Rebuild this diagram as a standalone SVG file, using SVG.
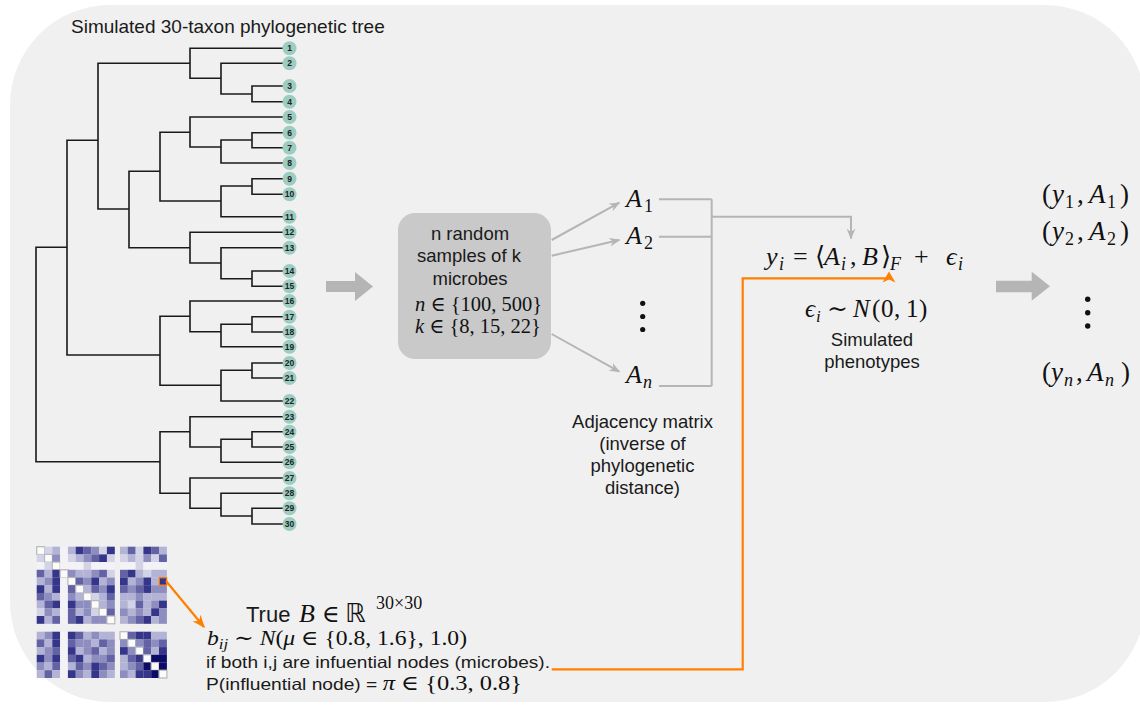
<svg xmlns="http://www.w3.org/2000/svg" width="1140" height="706" viewBox="0 0 1140 706">
<defs>
<style>
.t{font-family:"Liberation Sans",Arial,sans-serif;fill:#1a1a1a}
.m{font-family:"Liberation Serif","DejaVu Serif","DejaVu Sans",serif;fill:#111}
.i{font-style:italic}
.tree{fill:none;stroke:#1a1a1a;stroke-width:1.6;stroke-linecap:square}
.leaf circle{fill:#9dccc1}
.leaf text{font-family:"Liberation Sans",Arial,sans-serif;font-size:8.5px;font-weight:bold;fill:#222;text-anchor:middle}
.gl{fill:none;stroke:#b5b5b5;stroke-width:2}
.ol{fill:none;stroke:#ff8000;stroke-width:2.2}
.hm rect{width:7.9px;height:7.8px}
.c0{fill:#f3f3f7}.c1{fill:#d3d3e7}.c2{fill:#b3b3d5}.c3{fill:#8d8dbf}.c4{fill:#6262a4}.c5{fill:#35358a}.c6{fill:#0c0c66}
.d{fill:#fbfbfb;stroke:#b8b8b8;stroke-width:1.2}
</style>
<marker id="ag" viewBox="0 0 10 10" refX="9" refY="5" markerWidth="11" markerHeight="11" markerUnits="userSpaceOnUse" orient="auto"><path d="M0,1 L10,5 L0,9 L3,5 z" fill="#b5b5b5"/></marker>
<marker id="ao" viewBox="0 0 10 10" refX="9" refY="5" markerWidth="13" markerHeight="13" markerUnits="userSpaceOnUse" orient="auto"><path d="M0,1 L10,5 L0,9 L3,5 z" fill="#ff8000"/></marker>
</defs>
<rect width="1140" height="706" fill="#ffffff"/>
<rect x="10" y="5" width="1135" height="697" rx="100" ry="100" fill="#f0f0f0"/>

<g id="tree">
<text class="t" x="71" y="33" font-size="19">Simulated 30-taxon phylogenetic tree</text>
<path class="tree" d="M252,86V101.7M221,63.3V94M190,48.3V78.3M98,63.3V209M252,132.7V147.7M221,140V163M190,117V147M252,178.7V194.3M221,186V216.7M160,132.3V201M252,271V286.3M221,247.7V278.7M190,232.3V263M129,171.3V247.7M67,140.3V355M160,316.3V385.3M190,301V331.7M221,324.3V346.7M252,316.7V332M221,370.3V401M252,363V378M36,247.3V461.7M160,431.7V493.3M190,416.7V447M221,439.3V462.3M252,431.7V447M190,478V508.3M221,493.3V516M252,508.3V524
M221,94H252M190,78.3H221M98,63.3H190M221,140H252M190,147H221M221,186H252M160,132.3H190M160,201H221M221,278.7H252M190,263H221M129,171.3H160M129,247.7H190M98,209H129M67,140.3H98M67,355H160M160,316.3H190M190,331.7H221M221,324.3H252M160,385.3H221M221,370.3H252M36,247.3H67M36,461.7H160M160,431.7H190M190,447H221M221,439.3H252M160,493.3H190M190,508.3H221M221,516H252
M190,48.3H283M221,63.3H283M252,86H283M252,101.7H283M190,117H283M252,132.7H283M252,147.7H283M221,163H283M252,178.7H283M252,194.3H283M221,216.7H283M190,232.3H283M221,247.7H283M252,271H283M252,286.3H283M190,301H283M252,316.7H283M252,332H283M221,346.7H283M252,363H283M252,378H283M221,401H283M190,416.7H283M252,431.7H283M252,447H283M221,462.3H283M190,478H283M221,493.3H283M252,508.3H283M252,524H283"/>
<g class="leaf">
<circle cx="289.5" cy="48.3" r="7"/><text x="289.5" y="51.3">1</text>
<circle cx="289.5" cy="63.3" r="7"/><text x="289.5" y="66.3">2</text>
<circle cx="289.5" cy="86" r="7"/><text x="289.5" y="89">3</text>
<circle cx="289.5" cy="101.7" r="7"/><text x="289.5" y="104.7">4</text>
<circle cx="289.5" cy="117" r="7"/><text x="289.5" y="120">5</text>
<circle cx="289.5" cy="132.7" r="7"/><text x="289.5" y="135.7">6</text>
<circle cx="289.5" cy="147.7" r="7"/><text x="289.5" y="150.7">7</text>
<circle cx="289.5" cy="163" r="7"/><text x="289.5" y="166">8</text>
<circle cx="289.5" cy="178.7" r="7"/><text x="289.5" y="181.7">9</text>
<circle cx="289.5" cy="194.3" r="7"/><text x="289.5" y="197.3">10</text>
<circle cx="289.5" cy="216.7" r="7"/><text x="289.5" y="219.7">11</text>
<circle cx="289.5" cy="232.3" r="7"/><text x="289.5" y="235.3">12</text>
<circle cx="289.5" cy="247.7" r="7"/><text x="289.5" y="250.7">13</text>
<circle cx="289.5" cy="271" r="7"/><text x="289.5" y="274">14</text>
<circle cx="289.5" cy="286.3" r="7"/><text x="289.5" y="289.3">15</text>
<circle cx="289.5" cy="301" r="7"/><text x="289.5" y="304">16</text>
<circle cx="289.5" cy="316.7" r="7"/><text x="289.5" y="319.7">17</text>
<circle cx="289.5" cy="332" r="7"/><text x="289.5" y="335">18</text>
<circle cx="289.5" cy="346.7" r="7"/><text x="289.5" y="349.7">19</text>
<circle cx="289.5" cy="363" r="7"/><text x="289.5" y="366">20</text>
<circle cx="289.5" cy="378" r="7"/><text x="289.5" y="381">21</text>
<circle cx="289.5" cy="401" r="7"/><text x="289.5" y="404">22</text>
<circle cx="289.5" cy="416.7" r="7"/><text x="289.5" y="419.7">23</text>
<circle cx="289.5" cy="431.7" r="7"/><text x="289.5" y="434.7">24</text>
<circle cx="289.5" cy="447" r="7"/><text x="289.5" y="450">25</text>
<circle cx="289.5" cy="462.3" r="7"/><text x="289.5" y="465.3">26</text>
<circle cx="289.5" cy="478" r="7"/><text x="289.5" y="481">27</text>
<circle cx="289.5" cy="493.3" r="7"/><text x="289.5" y="496.3">28</text>
<circle cx="289.5" cy="508.3" r="7"/><text x="289.5" y="511.3">29</text>
<circle cx="289.5" cy="524" r="7"/><text x="289.5" y="527">30</text>
</g>
</g>

<g id="sampling-box">
<rect x="398" y="213" width="153" height="146" rx="17" fill="#c9c9c9"/>
<text class="t" text-anchor="middle" font-size="18.5"><tspan x="470" y="240">n random</tspan><tspan x="469" y="262">samples of k</tspan><tspan x="470" y="285">microbes</tspan></text>
<text class="m" x="415" y="311" font-size="20.5"><tspan class="i">n</tspan> ∈ {100, 500}</text>
<text class="m" x="415" y="333" font-size="20.5"><tspan class="i">k</tspan> ∈ {8, 15, 22}</text>
</g>

<g id="adjacency-samples">
<text class="m" font-size="26"><tspan class="i" x="626" y="207">A</tspan><tspan x="644" y="212" font-size="18">1</tspan></text>
<text class="m" font-size="26"><tspan class="i" x="626" y="244">A</tspan><tspan x="644" y="249" font-size="18">2</tspan></text>
<text class="m" font-size="26"><tspan class="i" x="626" y="383">A</tspan><tspan class="i" x="643" y="388" font-size="18">n</tspan></text>
<circle cx="642.7" cy="303.3" r="2.6" fill="#111"/>
<circle cx="642.7" cy="316.5" r="2.6" fill="#111"/>
<circle cx="642.7" cy="329.5" r="2.6" fill="#111"/>
<text class="t" text-anchor="middle" font-size="18.5"><tspan x="642.5" y="428">Adjacency matrix</tspan><tspan x="642.5" y="450">(inverse of</tspan><tspan x="642.5" y="472">phylogenetic</tspan><tspan x="642.5" y="494">distance)</tspan></text>
</g>

<g id="phenotype-model">
<text class="m" font-size="26"><tspan class="i" x="766" y="265">y</tspan><tspan class="i" x="779" y="270" font-size="18">i</tspan><tspan x="793" y="265">=</tspan><tspan x="815">⟨</tspan><tspan class="i" x="824">A</tspan><tspan class="i" x="841" y="270" font-size="18">i</tspan><tspan x="850" y="265">,</tspan><tspan class="i" x="862">B</tspan><tspan x="881">⟩</tspan><tspan class="i" x="890" y="270" font-size="18">F</tspan><tspan x="914" y="265">+</tspan><tspan class="i" x="946">ϵ</tspan><tspan class="i" x="958" y="270" font-size="18">i</tspan></text>
<text class="m" font-size="25"><tspan class="i" x="805" y="317">ϵ</tspan><tspan class="i" x="816" y="322" font-size="17">i</tspan><tspan x="827" y="317">∼</tspan><tspan class="i" x="853">N</tspan><tspan x="872">(</tspan><tspan x="881">0</tspan><tspan x="894">,</tspan><tspan x="906">1</tspan><tspan x="919">)</tspan></text>
<text class="t" text-anchor="middle" font-size="18.5"><tspan x="872" y="346">Simulated</tspan><tspan x="872" y="368">phenotypes</tspan></text>
</g>

<g id="output-pairs">
<text class="m" font-size="27"><tspan x="1042" y="203">(</tspan><tspan class="i" x="1052">y</tspan><tspan x="1065" y="208" font-size="18">1</tspan><tspan x="1077" y="203">,</tspan><tspan class="i" x="1089">A</tspan><tspan x="1107" y="208" font-size="18">1</tspan><tspan x="1120" y="203">)</tspan></text>
<text class="m" font-size="27"><tspan x="1042" y="240">(</tspan><tspan class="i" x="1052">y</tspan><tspan x="1065" y="245" font-size="18">2</tspan><tspan x="1077" y="240">,</tspan><tspan class="i" x="1089">A</tspan><tspan x="1107" y="245" font-size="18">2</tspan><tspan x="1120" y="240">)</tspan></text>
<text class="m" font-size="27"><tspan x="1042" y="381">(</tspan><tspan class="i" x="1051">y</tspan><tspan class="i" x="1064" y="386" font-size="18">n</tspan><tspan x="1076" y="381">,</tspan><tspan class="i" x="1087">A</tspan><tspan class="i" x="1105" y="386" font-size="18">n</tspan><tspan x="1121" y="381">)</tspan></text>
<circle cx="1087.7" cy="299.3" r="2.7" fill="#111"/>
<circle cx="1087.7" cy="312.7" r="2.7" fill="#111"/>
<circle cx="1087.7" cy="326" r="2.7" fill="#111"/>
</g>

<g id="true-B">
<text class="t" x="246" y="622" font-size="22">True</text>
<text class="m" font-size="26"><tspan class="i" x="299" y="622">B</tspan><tspan x="322" font-size="24">∈</tspan><tspan x="345" font-family="DejaVu Sans" font-size="26">ℝ</tspan><tspan x="376" y="609" font-size="18">30×30</tspan></text>
<text class="m" x="207" y="645" font-size="21" textLength="260" lengthAdjust="spacingAndGlyphs"><tspan class="i">b</tspan><tspan class="i" font-size="15" dy="4">ij</tspan><tspan dy="-4"> ∼ </tspan><tspan class="i">N</tspan>(<tspan class="i">μ</tspan> ∈ {0.8, 1.6}, 1.0)</text>
<text class="t" x="206" y="668" font-size="16.5" textLength="344" lengthAdjust="spacingAndGlyphs">if both i,j are infuential nodes (microbes).</text>
<text class="t" x="206" y="690" font-size="16.5" textLength="316" lengthAdjust="spacingAndGlyphs">P(influential node) = <tspan class="m i" font-size="21">π</tspan><tspan class="m" font-size="21"> ∈ {0.3, 0.8}</tspan></text>
</g>

<g id="B-heatmap" class="hm">
<g transform="translate(0,546.7)"><rect x="36.7" class="d"/><rect x="44.5" class="c1"/><rect x="52.3" class="c2"/><rect x="60.1" class="c0"/><rect x="67.9" class="c2"/><rect x="75.7" class="c5"/><rect x="83.5" class="c4"/><rect x="91.3" class="c3"/><rect x="99.1" class="c1"/><rect x="106.9" class="c5"/><rect x="120" class="c2"/><rect x="127.8" class="c4"/><rect x="135.6" class="c1"/><rect x="143.4" class="c5"/><rect x="151.2" class="c4"/><rect x="159" class="c2"/></g>
<g transform="translate(0,554.4)"><rect x="36.7" class="c1"/><rect x="44.5" class="d"/><rect x="52.3" class="c3"/><rect x="60.1" class="c0"/><rect x="67.9" class="c1"/><rect x="75.7" class="c2"/><rect x="83.5" class="c3"/><rect x="91.3" class="c4"/><rect x="99.1" class="c5"/><rect x="106.9" class="c1"/><rect x="120" class="c1"/><rect x="127.8" class="c2"/><rect x="135.6" class="c1"/><rect x="143.4" class="c3"/><rect x="151.2" class="c1"/><rect x="159" class="c4"/></g>
<g transform="translate(0,562.1)"><rect x="36.7" class="c0"/><rect x="44.5" class="c1"/><rect x="52.3" class="d"/><rect x="60.1" class="c0"/><rect x="67.9" class="c0"/><rect x="75.7" class="c0"/><rect x="83.5" class="c1"/><rect x="91.3" class="c0"/><rect x="99.1" class="c0"/><rect x="106.9" class="c0"/><rect x="120" class="c0"/><rect x="127.8" class="c0"/><rect x="135.6" class="c1"/><rect x="143.4" class="c0"/><rect x="151.2" class="c0"/><rect x="159" class="c0"/></g>
<g transform="translate(0,569.8)"><rect x="36.7" class="c4"/><rect x="44.5" class="c2"/><rect x="52.3" class="c5"/><rect x="60.1" class="d"/><rect x="67.9" class="c3"/><rect x="75.7" class="c2"/><rect x="83.5" class="c2"/><rect x="91.3" class="c3"/><rect x="99.1" class="c4"/><rect x="106.9" class="c1"/><rect x="120" class="c4"/><rect x="127.8" class="c5"/><rect x="135.6" class="c2"/><rect x="143.4" class="c1"/><rect x="151.2" class="c2"/><rect x="159" class="c2"/></g>
<g transform="translate(0,577.5)"><rect x="36.7" class="c2"/><rect x="44.5" class="c3"/><rect x="52.3" class="c5"/><rect x="60.1" class="c0"/><rect x="67.9" class="d"/><rect x="75.7" class="c4"/><rect x="83.5" class="c3"/><rect x="91.3" class="c5"/><rect x="99.1" class="c2"/><rect x="106.9" class="c3"/><rect x="120" class="c5"/><rect x="127.8" class="c2"/><rect x="135.6" class="c3"/><rect x="143.4" class="c5"/><rect x="151.2" class="c2"/><rect x="159" class="c5"/></g>
<g transform="translate(0,585.2)"><rect x="36.7" class="c5"/><rect x="44.5" class="c2"/><rect x="52.3" class="c5"/><rect x="60.1" class="c0"/><rect x="67.9" class="c4"/><rect x="75.7" class="d"/><rect x="83.5" class="c2"/><rect x="91.3" class="c4"/><rect x="99.1" class="c3"/><rect x="106.9" class="c5"/><rect x="120" class="c4"/><rect x="127.8" class="c3"/><rect x="135.6" class="c4"/><rect x="143.4" class="c5"/><rect x="151.2" class="c3"/><rect x="159" class="c3"/></g>
<g transform="translate(0,592.9)"><rect x="36.7" class="c4"/><rect x="44.5" class="c3"/><rect x="52.3" class="c2"/><rect x="60.1" class="c0"/><rect x="67.9" class="c3"/><rect x="75.7" class="c2"/><rect x="83.5" class="d"/><rect x="91.3" class="c1"/><rect x="99.1" class="c2"/><rect x="106.9" class="c4"/><rect x="120" class="c2"/><rect x="127.8" class="c2"/><rect x="135.6" class="c3"/><rect x="143.4" class="c2"/><rect x="151.2" class="c2"/><rect x="159" class="c2"/></g>
<g transform="translate(0,600.6)"><rect x="36.7" class="c2"/><rect x="44.5" class="c4"/><rect x="52.3" class="c5"/><rect x="60.1" class="c0"/><rect x="67.9" class="c5"/><rect x="75.7" class="c3"/><rect x="83.5" class="c3"/><rect x="91.3" class="d"/><rect x="99.1" class="c2"/><rect x="106.9" class="c3"/><rect x="120" class="c2"/><rect x="127.8" class="c1"/><rect x="135.6" class="c4"/><rect x="143.4" class="c2"/><rect x="151.2" class="c3"/><rect x="159" class="c5"/></g>
<g transform="translate(0,608.3)"><rect x="36.7" class="c1"/><rect x="44.5" class="c3"/><rect x="52.3" class="c2"/><rect x="60.1" class="c0"/><rect x="67.9" class="c4"/><rect x="75.7" class="c2"/><rect x="83.5" class="c3"/><rect x="91.3" class="c1"/><rect x="99.1" class="d"/><rect x="106.9" class="c4"/><rect x="120" class="c3"/><rect x="127.8" class="c2"/><rect x="135.6" class="c3"/><rect x="143.4" class="c2"/><rect x="151.2" class="c5"/><rect x="159" class="c3"/></g>
<g transform="translate(0,616)"><rect x="36.7" class="c5"/><rect x="44.5" class="c2"/><rect x="52.3" class="c4"/><rect x="60.1" class="c0"/><rect x="67.9" class="c4"/><rect x="75.7" class="c5"/><rect x="83.5" class="c2"/><rect x="91.3" class="c3"/><rect x="99.1" class="c3"/><rect x="106.9" class="d"/><rect x="120" class="c2"/><rect x="127.8" class="c3"/><rect x="135.6" class="c4"/><rect x="143.4" class="c5"/><rect x="151.2" class="c2"/><rect x="159" class="c3"/></g>
<g transform="translate(0,631.7)"><rect x="36.7" class="c2"/><rect x="44.5" class="c3"/><rect x="52.3" class="c5"/><rect x="60.1" class="c0"/><rect x="67.9" class="c5"/><rect x="75.7" class="c4"/><rect x="83.5" class="c2"/><rect x="91.3" class="c3"/><rect x="99.1" class="c2"/><rect x="106.9" class="c2"/><rect x="120" class="d"/><rect x="127.8" class="c4"/><rect x="135.6" class="c5"/><rect x="143.4" class="c5"/><rect x="151.2" class="c2"/><rect x="159" class="c2"/></g>
<g transform="translate(0,639.4)"><rect x="36.7" class="c4"/><rect x="44.5" class="c2"/><rect x="52.3" class="c5"/><rect x="60.1" class="c0"/><rect x="67.9" class="c4"/><rect x="75.7" class="c3"/><rect x="83.5" class="c3"/><rect x="91.3" class="c2"/><rect x="99.1" class="c4"/><rect x="106.9" class="c3"/><rect x="120" class="c3"/><rect x="127.8" class="d"/><rect x="135.6" class="c3"/><rect x="143.4" class="c4"/><rect x="151.2" class="c3"/><rect x="159" class="c4"/></g>
<g transform="translate(0,647.1)"><rect x="36.7" class="c2"/><rect x="44.5" class="c3"/><rect x="52.3" class="c4"/><rect x="60.1" class="c0"/><rect x="67.9" class="c5"/><rect x="75.7" class="c2"/><rect x="83.5" class="c3"/><rect x="91.3" class="c4"/><rect x="99.1" class="c2"/><rect x="106.9" class="c3"/><rect x="120" class="c5"/><rect x="127.8" class="c3"/><rect x="135.6" class="d"/><rect x="143.4" class="c4"/><rect x="151.2" class="c2"/><rect x="159" class="c5"/></g>
<g transform="translate(0,654.8)"><rect x="36.7" class="c5"/><rect x="44.5" class="c3"/><rect x="52.3" class="c5"/><rect x="60.1" class="c0"/><rect x="67.9" class="c4"/><rect x="75.7" class="c5"/><rect x="83.5" class="c2"/><rect x="91.3" class="c3"/><rect x="99.1" class="c3"/><rect x="106.9" class="c4"/><rect x="120" class="c2"/><rect x="127.8" class="c4"/><rect x="135.6" class="c5"/><rect x="143.4" class="d"/><rect x="151.2" class="c6"/><rect x="159" class="c6"/></g>
<g transform="translate(0,662.5)"><rect x="36.7" class="c3"/><rect x="44.5" class="c2"/><rect x="52.3" class="c4"/><rect x="60.1" class="c0"/><rect x="67.9" class="c2"/><rect x="75.7" class="c4"/><rect x="83.5" class="c3"/><rect x="91.3" class="c5"/><rect x="99.1" class="c4"/><rect x="106.9" class="c3"/><rect x="120" class="c2"/><rect x="127.8" class="c3"/><rect x="135.6" class="c4"/><rect x="143.4" class="c6"/><rect x="151.2" class="d"/><rect x="159" class="c6"/></g>
<g transform="translate(0,670.2)"><rect x="36.7" class="c2"/><rect x="44.5" class="c4"/><rect x="52.3" class="c2"/><rect x="60.1" class="c0"/><rect x="67.9" class="c5"/><rect x="75.7" class="c3"/><rect x="83.5" class="c2"/><rect x="91.3" class="c5"/><rect x="99.1" class="c3"/><rect x="106.9" class="c2"/><rect x="120" class="c3"/><rect x="127.8" class="c2"/><rect x="135.6" class="c5"/><rect x="143.4" class="c5"/><rect x="151.2" class="c6"/><rect x="159" class="d"/></g>
<rect x="159.3" y="577.8" style="width:7.4px;height:7.3px" fill="none" stroke="#ff8000" stroke-width="1.2"/>
</g>

<g id="connectors">
<polygon points="326,281 355,281 355,272 373,286.5 355,301 355,292 326,292" fill="#b5b5b5"/>
<polygon points="996,280.7 1031.7,280.7 1031.7,271.7 1050,286.3 1031.7,300.7 1031.7,292.3 996,292.3" fill="#b5b5b5"/>
<path class="gl" d="M551.7,240 L619.3,202.7" marker-end="url(#ag)"/>
<path class="gl" d="M551.7,255.7 L619.3,240" marker-end="url(#ag)"/>
<path class="gl" d="M551.7,334 L619.3,371.7" marker-end="url(#ag)"/>
<path class="gl" d="M659,199.3H711.7M659,236.7H711.7M659,386H711.7M711.7,199.3V386"/>
<path class="gl" d="M711.7,216.7H851V238.5" marker-end="url(#ag)"/>
<path class="ol" d="M551.7,669.3H742.7V278.3H889"/>
<polygon points="889,271.5 895.5,282.5 889,279.5 882.5,282.5" fill="#ff8000"/>
<path class="ol" d="M166,581 L204,627" marker-end="url(#ao)"/>
</g>
</svg>
